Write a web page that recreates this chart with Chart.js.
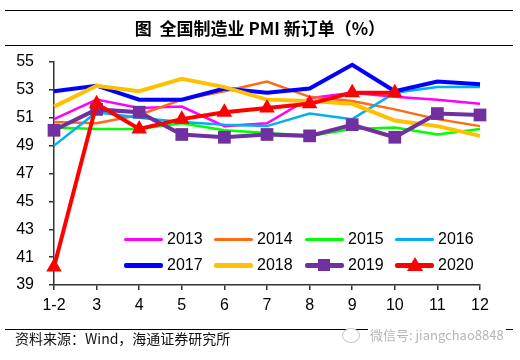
<!DOCTYPE html>
<html>
<head>
<meta charset="utf-8">
<script src="https://cdn.jsdelivr.net/npm/chart.js@4"></script>
<style>
    body { margin: 0; background: #fff; }
    #wrap { position: relative; width: 520px; height: 360px; overflow: hidden; font-family: 'Liberation Sans', Arial, sans-serif; }
    #chart { position: absolute; left: 0; top: 0; }
    .rule { position: absolute; left: 5px; width: 508px; height: 1px; background: #000; }
    #title { position: absolute; left: 0; width: 520px; top: 17px; text-align: center; font-family: 'Noto Sans CJK SC', sans-serif; font-weight: bold; font-size: 17px; line-height: 22px; color: #000; }
    #source { position: absolute; left: 15px; top: 328px; font-family: 'Noto Sans CJK SC', sans-serif; font-size: 14px; line-height: 20px; color: #111; }
    #mark { position: absolute; left: 368px; top: 326px; font-family: 'Noto Sans CJK SC', sans-serif; font-size: 13px; line-height: 18px; color: #b5b5b5; background: #fff; padding: 0 2px; }
    #icon { position: absolute; left: 342px; top: 328px; width: 16px; height: 13px; border: 1.5px solid #c8c8c8; border-radius: 50%; background: #fff; }
    .leg { position: absolute; height: 20px; font-size: 16px; line-height: 20px; color: #000; }
    .leg .ln { position: absolute; left: 0; top: 9px; width: 39px; border-radius: 2px; }
    .leg .tx { position: absolute; left: 43px; top: 0; }
    .leg .sq { position: absolute; left: 13px; top: 4px; width: 12px; height: 12px; }
    .leg .tri { position: absolute; left: 12px; top: 2px; width: 0; height: 0; border-left: 8px solid transparent; border-right: 8px solid transparent; }
</style>
</head>
<body>
<div id="wrap">
    <canvas id="chart" width="520" height="360"></canvas>
    <div class="rule" style="top:10px"></div>
    <div id="title">图&nbsp; 全国制造业 PMI 新订单（%）</div>
    <div class="rule" style="top:45px"></div>
    <div class="rule" style="top:329px"></div>
    <div id="source">资料来源：Wind，海通证券研究所</div>
    <div id="icon"></div>
    <div id="mark">微信号: jiangchao8848</div>
    <div id="legend"></div>
</div>
<script>
// month categories (Jan-Feb combined)
const months = ['1-2', '3', '4', '5', '6', '7', '8', '9', '10', '11', '12'];
const yTicks = [39, 41, 43, 45, 47, 49, 51, 53, 55];

const years = ['2013', '2014', '2015', '2016', '2017', '2018', '2019', '2020'];
const colors = ['#FF00FF', '#FF6A13', '#00FF00', '#00B0F0', '#0000FF', '#FFC000', '#7030A0', '#FF0000'];

const s2013 = [50.9, 52.3, 51.7, 51.8, 50.4, 50.6, 52.4, 52.8, 52.5, 52.3, 52.0];
const s2014 = [50.7, 50.6, 51.2, 52.3, 52.9, 53.6, 52.5, 52.2, 51.6, 50.9, 50.4];
const s2015 = [50.3, 50.2, 50.2, 50.6, 50.1, 49.9, 49.7, 50.2, 50.3, 49.8, 50.2];
const s2016 = [49.0, 51.4, 51.0, 50.7, 50.5, 50.4, 51.3, 50.9, 52.8, 53.2, 53.2];
const s2017 = [52.9, 53.3, 52.3, 52.3, 53.1, 52.8, 53.1, 54.8, 52.9, 53.6, 53.4];
const s2018 = [51.8, 53.3, 52.9, 53.8, 53.2, 52.3, 52.2, 52.0, 50.8, 50.4, 49.7];
const s2019 = [50.1, 51.6, 51.4, 49.8, 49.6, 49.8, 49.7, 50.5, 49.6, 51.3, 51.2];
const s2020 = [40.3, 52.0, 50.2, 50.9, 51.4, 51.7, 52.0, 52.8, 52.8, null, null];

const series = [s2013, s2014, s2015, s2016, s2017, s2018, s2019, s2020];
const widths = [2.5, 2.5, 2.5, 2.5, 4, 4, 4, 4];
const markers = [false, false, false, false, false, false, 'rect', 'triangle'];

const datasets = series.map(function(data, i) {
    return {
        label: years[i],
        data: data,
        borderColor: colors[i],
        backgroundColor: colors[i],
        borderWidth: widths[i],
        pointStyle: markers[i] || 'circle',
        pointRadius: markers[i] ? 9 : 0,
        pointBorderWidth: 0,
        pointHoverRadius: 0,
        tension: 0,
        spanGaps: false,
        order: series.length - i
    };
});

const axisColor = '#333';
const tickFont = { family: "'Liberation Sans', Arial, sans-serif", size: 16 };

new Chart(document.getElementById('chart').getContext('2d'), {
    type: 'line',
    data: { labels: months, datasets: datasets },
    options: {
        responsive: false,
        animation: false,
        devicePixelRatio: 1,
        layout: { padding: { left: 0, top: 62, right: 40, bottom: 0 } },
        plugins: {
            legend: { display: false },
            tooltip: { enabled: false }
        },
        scales: {
            x: {
                offset: false,
                grid: { drawOnChartArea: false, drawTicks: true, tickLength: 5, color: axisColor, lineWidth: 1.5 },
                border: { color: axisColor, width: 1.5 },
                ticks: { color: '#000', font: tickFont, padding: 6, maxRotation: 0, autoSkip: false },
                afterFit: function(scale) { scale.height = 75; }
            },
            y: {
                min: 39,
                max: 55,
                grid: { drawOnChartArea: false, drawTicks: true, tickLength: 5, color: axisColor, lineWidth: 1.5 },
                border: { color: axisColor, width: 1.5 },
                afterBuildTicks: function(scale) { scale.ticks = yTicks.map(function(v) { return { value: v }; }); },
                ticks: { color: '#000', font: tickFont, padding: 15 },
                afterFit: function(scale) { scale.width = 54; }
            }
        }
    }
});

// legend drawn as html, two rows of four
const legend = document.getElementById('legend');
const legX = [124, 214, 305, 395];
const legY = [229, 255];
years.forEach(function(y, i) {
    const item = document.createElement('div');
    item.className = 'leg';
    item.style.left = legX[i % 4] + 'px';
    item.style.top = legY[Math.floor(i / 4)] + 'px';
    const ln = document.createElement('div');
    ln.className = 'ln';
    ln.style.background = colors[i];
    ln.style.height = (widths[i] + 0.5) + 'px';
    ln.style.top = (10 - widths[i] / 2) + 'px';
    item.appendChild(ln);
    if (markers[i] === 'rect') {
        const m = document.createElement('div');
        m.className = 'sq';
        m.style.background = colors[i];
        item.appendChild(m);
    } else if (markers[i] === 'triangle') {
        const m = document.createElement('div');
        m.className = 'tri';
        m.style.borderBottom = '14px solid ' + colors[i];
        item.appendChild(m);
    }
    const tx = document.createElement('div');
    tx.className = 'tx';
    tx.textContent = y;
    item.appendChild(tx);
    legend.appendChild(item);
});
</script>
</body>
</html>
